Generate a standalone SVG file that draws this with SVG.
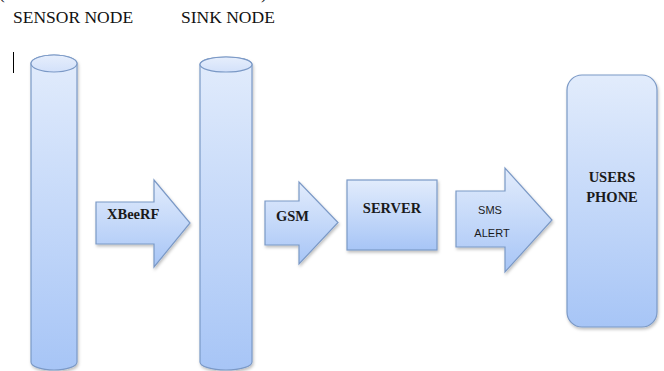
<svg xmlns="http://www.w3.org/2000/svg" width="664" height="371" viewBox="0 0 664 371">
  <defs>
    <linearGradient id="blueFill" x1="0" y1="0" x2="0" y2="1">
      <stop offset="0" stop-color="#e2ecfc"/>
      <stop offset="1" stop-color="#a7c5f6"/>
    </linearGradient>
    <linearGradient id="capFill" x1="0" y1="0" x2="0" y2="1">
      <stop offset="0" stop-color="#e6eefc"/>
      <stop offset="1" stop-color="#d3e1fa"/>
    </linearGradient>
    <filter id="shadow" x="-20%" y="-20%" width="140%" height="140%">
      <feDropShadow dx="1" dy="2" stdDeviation="1.5" flood-color="#000" flood-opacity="0.25"/>
    </filter>
  </defs>
  <style>
    .shape { fill: url(#blueFill); stroke: #7b99c6; stroke-width: 1.2; filter: url(#shadow); }
    .cap { fill: url(#capFill); stroke: #7b99c6; stroke-width: 1.2; }
    .title { font-family: "Liberation Serif", "DejaVu Serif", serif; font-size: 17.5px; fill: #111; }
    .bold { font-family: "Liberation Serif", "DejaVu Serif", serif; font-size: 14.5px; font-weight: bold; fill: #1a1a1a; }
    .sans { font-family: "Liberation Sans", Arial, sans-serif; font-size: 11px; fill: #1a1a1a; }
  </style>
  <rect width="664" height="371" fill="#ffffff"/>

  <!-- bits of the line above, cut by the top edge -->
  <text class="title" x="-1" y="-1.5">(</text>
  <text class="title" x="261" y="-1.5">)</text>

  <text class="title" x="13" y="23">SENSOR NODE</text>
  <text class="title" x="181" y="23">SINK NODE</text>

  <!-- text cursor -->
  <line x1="13.5" y1="52" x2="13.5" y2="73" stroke="#000" stroke-width="1"/>

  <g id="sensor-node">
    <path class="shape" d="M31,63.5 L31,362 A23,8 0 0 0 77,362 L77,63.5 A23,8.5 0 0 0 31,63.5 Z"/>
    <ellipse class="cap" cx="54" cy="63.5" rx="23" ry="8.5"/>
  </g>

  <g id="sink-node">
    <path class="shape" d="M200,64.5 L200,362 A26,8 0 0 0 252,362 L252,64.5 A26,7.5 0 0 0 200,64.5 Z"/>
    <ellipse class="cap" cx="226" cy="64.5" rx="26" ry="7.5"/>
  </g>

  <g id="server">
    <rect class="shape" x="347" y="180" width="90" height="70"/>
    <text class="bold" x="392" y="213" text-anchor="middle">SERVER</text>
  </g>

  <g id="users-phone">
    <rect class="shape" x="567" y="75" width="90" height="252" rx="15" ry="15"/>
    <text class="bold" x="612" y="182" text-anchor="middle">USERS</text>
    <text class="bold" x="612" y="202" text-anchor="middle">PHONE</text>
  </g>

  <g id="connectors">
    <g id="xbee-link">
      <path class="shape" d="M96,202 L154,202 L154,180 L190,223 L154,267 L154,244 L96,244 Z"/>
      <text class="bold" x="107" y="219">XBeeRF</text>
    </g>
    <g id="gsm-link">
      <path class="shape" d="M265,201 L299,201 L299,182 L338,222.5 L299,264 L299,245 L265,245 Z"/>
      <text class="bold" x="276" y="221">GSM</text>
    </g>
    <g id="sms-link">
      <path class="shape" d="M456,191 L505,191 L505,168 L552,220 L505,272 L505,247 L456,247 Z"/>
      <text class="sans" x="490" y="214" text-anchor="middle">SMS</text>
      <text class="sans" x="492" y="237" text-anchor="middle">ALERT</text>
    </g>
  </g>
</svg>
